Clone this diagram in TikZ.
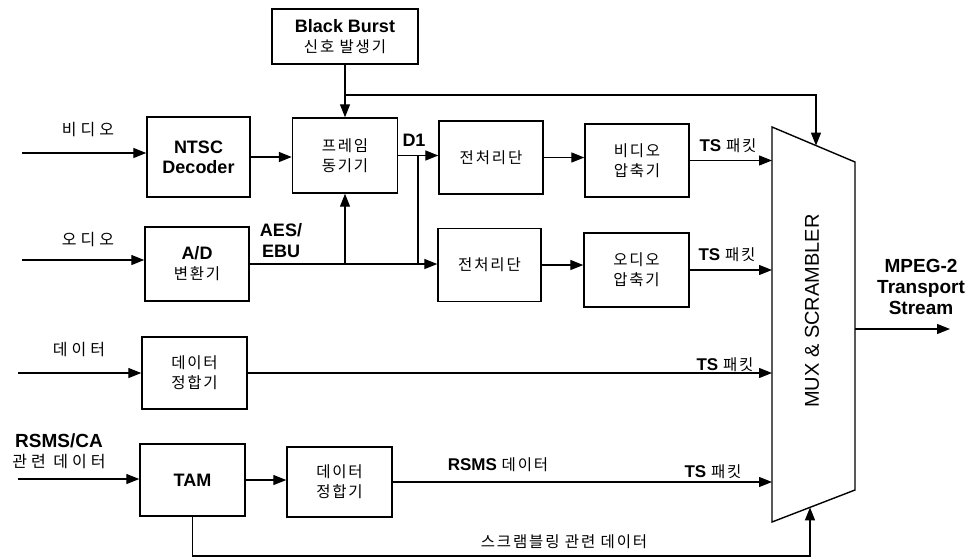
\documentclass[tikz,border=0pt]{standalone}
\usepackage{fontspec}
\setmainfont{Liberation Sans}
\newfontfamily\krfont[LetterSpace=12]{Noto Sans CJK KR}
\newfontfamily\krwide[LetterSpace=25]{Noto Sans CJK KR}
\usetikzlibrary{arrows.meta}
\newcommand\K[1]{{\fontsize{15.5}{20}\selectfont\mdseries\krfont #1}}
\newcommand\KW[1]{{\fontsize{16}{20}\selectfont\mdseries\krwide #1}}
\begin{document}
\begin{tikzpicture}[x=1pt,y=-1pt,
  blk/.style={draw, line width=1.4pt, inner sep=0pt, align=center, font=\fontsize{18}{20}\selectfont\bfseries},
  ln/.style={line width=1.3pt},
  arr/.style={ln, -{Triangle[length=13pt,width=10pt]}},
  lbl/.style={inner sep=0pt, align=center, font=\fontsize{18}{21}\selectfont\bfseries}]
\useasboundingbox (0,0) rectangle (968,559);

% blocks
\node[blk, minimum width=146pt, minimum height=55pt] (bb) at (345,36.5) {Black Burst\\\K{신호 발생기}};
\node[blk, minimum width=103pt, minimum height=80pt] (ntsc) at (198.5,157) {NTSC\\Decoder};
\node[blk, minimum width=105pt, minimum height=75pt] (frame) at (345,155.5) {\K{프레임}\\\K{동기기}};
\node[blk, minimum width=104pt, minimum height=74pt] (ad) at (197,264) {A/D\\\K{변환기}};
\node[blk, minimum width=104pt, minimum height=73pt] (pre1) at (491,157.5) {\K{전처리단}};
\node[blk, minimum width=103pt, minimum height=73pt] (pre2) at (489.5,265) {\K{전처리단}};
\node[blk, minimum width=104pt, minimum height=73pt] (vcomp) at (637,160.5) {\K{비디오}\\\K{압축기}};
\node[blk, minimum width=105pt, minimum height=74pt] (acomp) at (636.5,270) {\K{오디오}\\\K{압축기}};
\node[blk, minimum width=105pt, minimum height=72pt] (dm1) at (194.5,373) {\K{데이터}\\\K{정합기}};
\node[blk, minimum width=105pt, minimum height=72pt] (tam) at (192.5,480) {TAM};
\node[blk, minimum width=105pt, minimum height=70pt] (dm2) at (339.5,482) {\K{데이터}\\\K{정합기}};

% MUX trapezoid
\coordinate (m1) at (772,127);
\coordinate (m2) at (855,162);
\coordinate (m3) at (855,490);
\coordinate (m4) at (772,522);
\draw[line width=1.4pt] (m1) -- (m2) -- (m3) -- (m4) -- cycle;
\node[inner sep=0pt, rotate=90, font=\fontsize{20}{22}\selectfont] (muxtxt) at (812,311) {MUX \& SCRAMBLER};
\coordinate (muxtop) at (816,145.6);
\coordinate (muxbot) at (810,507.4);
\coordinate (mo) at (855,329);
\coordinate (outend) at (950,329);

% inputs
\coordinate (vin) at (22,153);
\coordinate (ain) at (22,260);
\coordinate (din) at (18,373);
\coordinate (rin) at (18,479);
\draw[arr] (vin) -- (vin -| ntsc.west);
\draw[arr] (ain) -- (ain -| ad.west);
\draw[arr] (din) -- (din -| dm1.west);
\draw[arr] (rin) -- (rin -| tam.west);

% connections
\draw[arr] (ntsc.east) -- (ntsc.east -| frame.west);
\draw[arr] (bb.south) -- (frame.north);
\coordinate (br) at (345,95);
\draw[arr] (br) -| (muxtop);
\draw[arr] (frame.east) -- (frame.east -| pre1.west);
\coordinate (sp) at (418,155.5);
\draw[ln] (sp) -- (sp |- ad.east);
\draw[arr] (ad.east) -- (ad.east -| pre2.west);
\draw[arr] (frame.south |- ad.east) -- (frame.south);
\draw[arr] (pre1.east) -- (pre1.east -| vcomp.west);
\draw[arr] (pre2.east) -- (pre2.east -| acomp.west);
\draw[arr] (vcomp.east) -- (vcomp.east -| m1);
\draw[arr] (acomp.east) -- (acomp.east -| m1);
\draw[arr] (dm1.east) -- (dm1.east -| m1);
\draw[arr] (tam.east) -- (tam.east -| dm2.west);
\draw[arr] (dm2.east) -- (dm2.east -| m1);
\coordinate (bl) at (810,556);
\draw[arr] (tam.south) |- (bl) -- (muxbot);
\draw[arr] (mo) -- (outend);

% labels
\node[lbl] (lv) at (88,130) {\KW{비디오}};
\node[lbl] (la) at (88,240) {\KW{오디오}};
\node[lbl] (ld) at (79,350) {\KW{데이터}};
\node[lbl, font=\fontsize{19}{20}\selectfont\bfseries] (lr) at (59,451) {RSMS/CA\\\KW{관련 데이터}};
\node[lbl] (laes) at (281,241) {AES/\\EBU};
\node[lbl] (ld1) at (414,140) {D1};
\node[lbl, font=\fontsize{17}{20}\selectfont\bfseries] (ts1) at (728,146) {TS \K{패킷}};
\node[lbl, font=\fontsize{17}{20}\selectfont\bfseries] (ts2) at (727,255) {TS \K{패킷}};
\node[lbl, font=\fontsize{17}{20}\selectfont\bfseries] (ts3) at (725,365) {TS \K{패킷}};
\node[lbl, font=\fontsize{17}{20}\selectfont\bfseries] (ts4) at (713,472) {TS \K{패킷}};
\node[lbl, font=\fontsize{17}{20}\selectfont\bfseries] (lrsms) at (498,465) {RSMS \K{데이터}};
\node[lbl] (lscr) at (564,542) {\K{스크램블링 관련 데이터}};
\node[lbl, font=\fontsize{19}{21}\selectfont\bfseries] (lmpeg) at (921,287) {MPEG-2\\Transport\\Stream};
\end{tikzpicture}
\end{document}
